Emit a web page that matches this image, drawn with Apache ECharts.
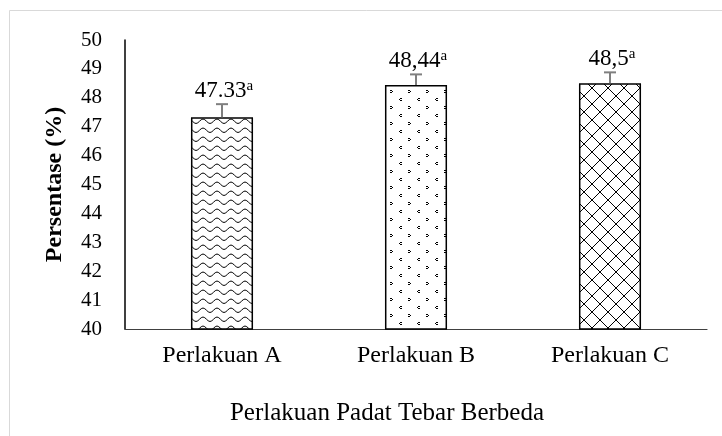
<!DOCTYPE html>
<html>
<head>
<meta charset="utf-8">
<script src="https://cdn.jsdelivr.net/npm/echarts@6/dist/echarts.min.js"></script>
<style>
  html, body { margin: 0; padding: 0; background: #fff; }
  #chart { width: 722px; height: 436px; }
</style>
</head>
<body>
<div id="chart"></div>
<script>
  let categories = ['Perlakuan A', 'Perlakuan B', 'Perlakuan C'];
  let values = [47.33, 48.44, 48.5];
  let errors = [0.45, 0.37, 0.38];
  let valueLabels = ['47.33', '48,44', '48,5'];
  let letters = ['a', 'a', 'a'];

  const serif = '"Liberation Serif", "DejaVu Serif", serif';

  // hatch fills drawn on small canvases
  function makePattern(kind) {
    let c = document.createElement('canvas');
    let ctx = c.getContext('2d');
    ctx.strokeStyle = '#000';
    ctx.lineWidth = 1.2;
    if (kind === 'wave') {
      c.width = 14; c.height = 9;
      ctx.fillStyle = '#fff';
      ctx.fillRect(0, 0, 14, 9);
      ctx.beginPath();
      ctx.moveTo(0, 6.5);
      ctx.bezierCurveTo(2.5, 6.5, 4.5, 2, 7, 2);
      ctx.bezierCurveTo(9.5, 2, 11.5, 6.5, 14, 6.5);
      ctx.stroke();
    } else if (kind === 'dots') {
      c.width = 18; c.height = 16;
      ctx.fillStyle = '#fff';
      ctx.fillRect(0, 0, 18, 16);
      ctx.fillStyle = '#000';
      // "<" mark
      ctx.fillRect(4, 2, 2, 1); ctx.fillRect(3, 3, 1, 1); ctx.fillRect(4, 4, 2, 1);
      // ">" mark
      ctx.fillRect(12, 10, 2, 1); ctx.fillRect(14, 11, 1, 1); ctx.fillRect(12, 12, 2, 1);
    } else {
      c.width = 16; c.height = 16;
      ctx.fillStyle = '#fff';
      ctx.fillRect(0, 0, 16, 16);
      ctx.beginPath();
      ctx.moveTo(0, 8); ctx.lineTo(8, 0); ctx.lineTo(16, 8); ctx.lineTo(8, 16); ctx.closePath();
      ctx.stroke();
    }
    return { image: c, repeat: 'repeat' };
  }

  let fills = [makePattern('wave'), makePattern('dots'), makePattern('diamond')];

  let barData = values.map(function (v, i) {
    return { value: v, itemStyle: { color: fills[i] } };
  });

  let errData = values.map(function (v, i) {
    return [i, v, errors[i]];
  });

  var myChart = echarts.init(document.getElementById('chart'));
  var option = {
    animation: false,
    backgroundColor: '#fff',
    graphic: [
      {
        type: 'rect',
        shape: { x: 9.5, y: 10.5, width: 800, height: 600 },
        style: { fill: 'none', stroke: '#d9d9d9', lineWidth: 1 },
        silent: true
      }
    ],
    title: {
      text: 'Perlakuan Padat Tebar Berbeda',
      left: 382,
      top: 396,
      textAlign: 'center',
      textStyle: { fontFamily: serif, fontSize: 25, fontWeight: 'normal', color: '#000' }
    },
    grid: { left: 125, right: 15, top: 40, bottom: 107 },
    xAxis: {
      type: 'category',
      data: categories,
      axisTick: { show: false },
      axisLine: { lineStyle: { color: '#404040', width: 1.2 } },
      axisLabel: { color: '#000', fontFamily: serif, fontSize: 24, margin: 15 }
    },
    yAxis: {
      type: 'value',
      min: 40,
      max: 50,
      interval: 1,
      name: 'Persentase (%)',
      nameLocation: 'middle',
      nameGap: 58,
      nameTextStyle: { fontFamily: serif, fontSize: 24, fontWeight: 'bold', color: '#000' },
      splitLine: { show: false },
      axisTick: { show: false },
      axisLine: { show: true, lineStyle: { color: '#000', width: 1.5 } },
      axisLabel: { color: '#000', fontFamily: serif, fontSize: 21, margin: 23 }
    },
    series: [
      {
        type: 'bar',
        barWidth: '32%',
        itemStyle: { borderColor: '#000', borderWidth: 1.5 },
        data: barData,
        z: 2
      },
      {
        type: 'custom',
        z: 3,
        data: errData,
        renderItem: function (params, api) {
          let i = api.value(0);
          let top = api.coord([i, api.value(1) + api.value(2)]);
          let base = api.coord([i, api.value(1)]);
          let lineStyle = { stroke: '#7f7f7f', lineWidth: 2 };
          return {
            type: 'group',
            children: [
              { type: 'line', shape: { x1: top[0], y1: top[1], x2: base[0], y2: base[1] }, style: lineStyle },
              { type: 'line', shape: { x1: top[0] - 6, y1: top[1], x2: top[0] + 6, y2: top[1] }, style: lineStyle },
              {
                type: 'text',
                x: top[0] + 2,
                y: top[1] - 1,
                style: {
                  text: '{v|' + valueLabels[params.dataIndex] + '}{s|' + letters[params.dataIndex] + '}',
                  align: 'center',
                  verticalAlign: 'bottom',
                  rich: {
                    v: { fontFamily: serif, fontSize: 23, fill: '#000' },
                    s: { fontFamily: serif, fontSize: 15, fill: '#000', padding: [0, 0, 10, 0] }
                  }
                }
              }
            ]
          };
        }
      }
    ]
  };
  myChart.setOption(option);
</script>
</body>
</html>
